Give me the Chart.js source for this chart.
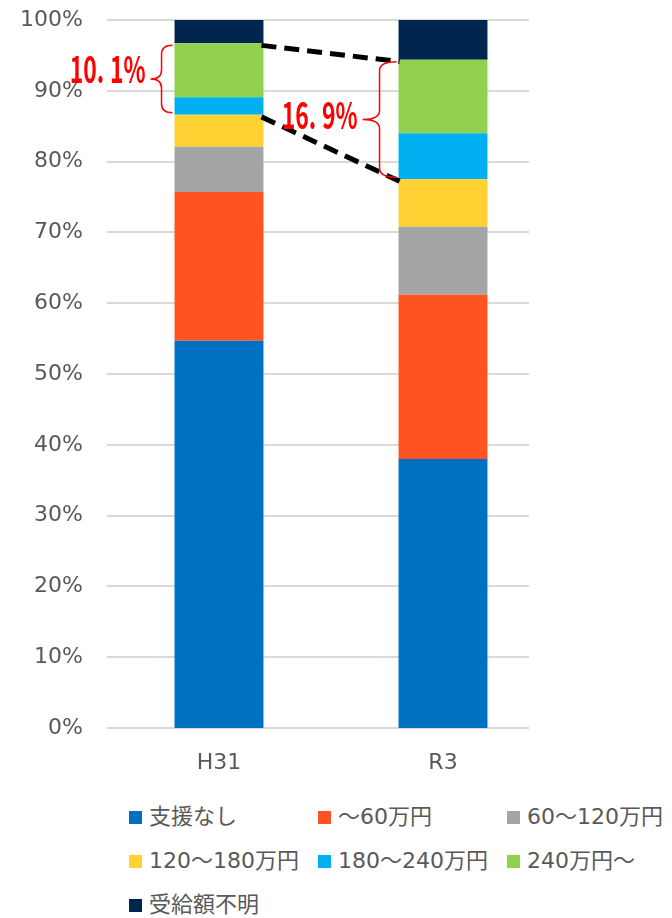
<!DOCTYPE html>
<html lang="ja">
<head>
<meta charset="utf-8">
<title>受給額の分布</title>
<script src="https://cdn.jsdelivr.net/npm/chart.js@4.4.1/dist/chart.umd.min.js"></script>
<style>
  html, body { margin: 0; padding: 0; background: #fff; }
  #wrap { position: relative; width: 672px; height: 918px; overflow: hidden; }
  #chart { position: absolute; left: 0; top: 0; }
  #legend {
    position: absolute; left: 129px; top: 795px;
    display: grid; grid-template-columns: 189px 189px 189px;
    font-family: "DejaVu Sans", "Noto Sans CJK JP", sans-serif;
    font-size: 22px; line-height: 26px; color: #595959;
  }
  #legend .item { display: flex; align-items: center; height: 44px; white-space: nowrap; }
  #legend .box { width: 13px; height: 13px; margin-right: 7px; flex: none; }
</style>
</head>
<body>
<div id="wrap">
  <canvas id="chart" width="672" height="790"></canvas>
  <div id="legend"></div>
</div>
<script>
// ---------- Data ----------
const years = ['H31', 'R3'];
const seriesNames = ['支援なし', '～60万円', '60～120万円', '120～180万円', '180～240万円', '240万円～', '受給額不明'];
const seriesColors = ['#0070C0', '#FF5321', '#A5A5A5', '#FFD133', '#00B0F0', '#92D050', '#00264F'];

// share (%) per bracket, one entry per year
const noSupport  = [54.7, 38.0];
const upTo60     = [21.0, 23.2];
const from60     = [6.4, 9.6];
const from120    = [4.5, 6.7];
const from180    = [2.5, 6.5];
const from240    = [7.6, 10.4];
const unknownAmt = [3.3, 5.6];

const yTicks = [0, 10, 20, 30, 40, 50, 60, 70, 80, 90, 100];

const seriesValues = [noSupport, upTo60, from60, from120, from180, from240, unknownAmt];

// ---------- Styles ----------
const TEXT_GRAY = '#595959';
const GRID_COLOR = '#D9D9D9';
const GRID_TRIM = 26;        // grid stops short of the right edge of the plot
const HIGH_FROM = 4;         // index of 180～240万円, first of the "high" brackets
const HIGH_TO = 5;           // index of 240万円～

// horizontal grid, drawn under the bars
const shortGrid = {
  id: 'shortGrid',
  beforeDatasetsDraw(chart) {
    const { ctx, chartArea } = chart;
    const y = chart.scales.y;
    ctx.save();
    ctx.strokeStyle = GRID_COLOR;
    ctx.lineWidth = 2;
    y.ticks.forEach((t, i) => {
      const py = Math.round(y.getPixelForTick(i));
      ctx.beginPath();
      ctx.moveTo(chartArea.left, py);
      ctx.lineTo(chartArea.right - GRID_TRIM, py);
      ctx.stroke();
    });
    ctx.restore();
  }
};

// dashed links between the two bars + red braces with the summed share
const highShare = {
  id: 'highShare',
  afterDatasetsDraw(chart) {
    const { ctx } = chart;
    const top = chart.getDatasetMeta(HIGH_TO).data;      // 240万円～ segments
    const low = chart.getDatasetMeta(HIGH_FROM).data;    // 180～240万円 segments
    const edge = (bar, side) => bar.x + side * bar.width / 2;

    ctx.save();
    ctx.strokeStyle = '#000';
    ctx.lineWidth = 5;
    ctx.setLineDash([15, 8]);
    [[top[0].y, top[1].y], [low[0].base, low[1].base]].forEach(([y0, y1]) => {
      ctx.beginPath();
      ctx.moveTo(edge(top[0], 1) - 2, y0 + 2);
      ctx.lineTo(edge(top[1], -1) + 1, y1 + 2);
      ctx.stroke();
    });
    ctx.restore();

    const depth = [22, 34];
    const textLift = [10, 5];
    years.forEach((yr, i) => {
      const [whole, dec] = (from180[i] + from240[i]).toFixed(1).split('.');
      const label = whole + '.\u2005' + dec + '%';
      const xEnd = edge(top[i], -1) - 2;
      const xTip = xEnd - depth[i];
      const xMid = (xEnd + xTip) / 2;
      const y0 = top[i].y + 2;
      const y1 = low[i].base - 2;
      const ym = (y0 + y1) / 2;
      const r = Math.min(9, (y1 - y0) / 5);

      ctx.save();
      ctx.strokeStyle = '#FF0000';
      ctx.lineWidth = 1.5;
      ctx.beginPath();
      ctx.moveTo(xEnd, y0);
      ctx.quadraticCurveTo(xMid, y0, xMid, y0 + r);
      ctx.lineTo(xMid, ym - r);
      ctx.quadraticCurveTo(xMid, ym, xTip, ym);
      ctx.quadraticCurveTo(xMid, ym, xMid, ym + r);
      ctx.lineTo(xMid, y1 - r);
      ctx.quadraticCurveTo(xMid, y1, xEnd, y1);
      ctx.stroke();

      // condensed bold label
      ctx.translate(xTip - 5, ym - textLift[i]);
      ctx.scale(0.62, 1);
      ctx.fillStyle = '#FF0000';
      ctx.font = 'bold 37px "Noto Sans CJK JP", sans-serif';
      ctx.textAlign = 'right';
      ctx.textBaseline = 'middle';
      ctx.fillText(label, 0, 0);
      ctx.restore();
    });
  }
};

const datasets = seriesNames.map((name, i) => ({
  label: name,
  data: seriesValues[i],
  backgroundColor: seriesColors[i],
  borderWidth: 0,
  categoryPercentage: 1,
  barPercentage: 0.397
}));

const tickFont = { family: '"DejaVu Sans", "Noto Sans CJK JP", sans-serif', size: 22 };

new Chart(document.getElementById('chart'), {
  type: 'bar',
  data: { labels: years, datasets },
  options: {
    responsive: false,
    animation: false,
    layout: { padding: { top: 20, right: 117, bottom: 0, left: 0 } },
    plugins: {
      legend: { display: false },
      tooltip: { enabled: false }
    },
    scales: {
      x: {
        stacked: true,
        grid: { display: false, drawTicks: false },
        border: { display: false },
        ticks: { color: TEXT_GRAY, font: tickFont, padding: 22 },
        afterFit(scale) { scale.height = 62; }
      },
      y: {
        stacked: true,
        min: 0,
        max: 100,
        afterBuildTicks(scale) { scale.ticks = yTicks.map(v => ({ value: v })); },
        grid: { display: false, drawTicks: false },
        border: { display: false },
        ticks: { color: TEXT_GRAY, font: tickFont, padding: 24, callback: v => v + '%' },
        afterFit(scale) {
          scale.width = 107;
          scale.paddingTop = 0;
          scale.paddingBottom = 0;
        }
      }
    }
  },
  plugins: [shortGrid, highShare]
});

// ---------- Legend ----------
const legendEl = document.getElementById('legend');
seriesNames.forEach((name, i) => {
  const item = document.createElement('div');
  item.className = 'item';
  item.innerHTML = `<span class="box" style="background:${seriesColors[i]}"></span><span>${name}</span>`;
  legendEl.appendChild(item);
});
</script>
</body>
</html>
